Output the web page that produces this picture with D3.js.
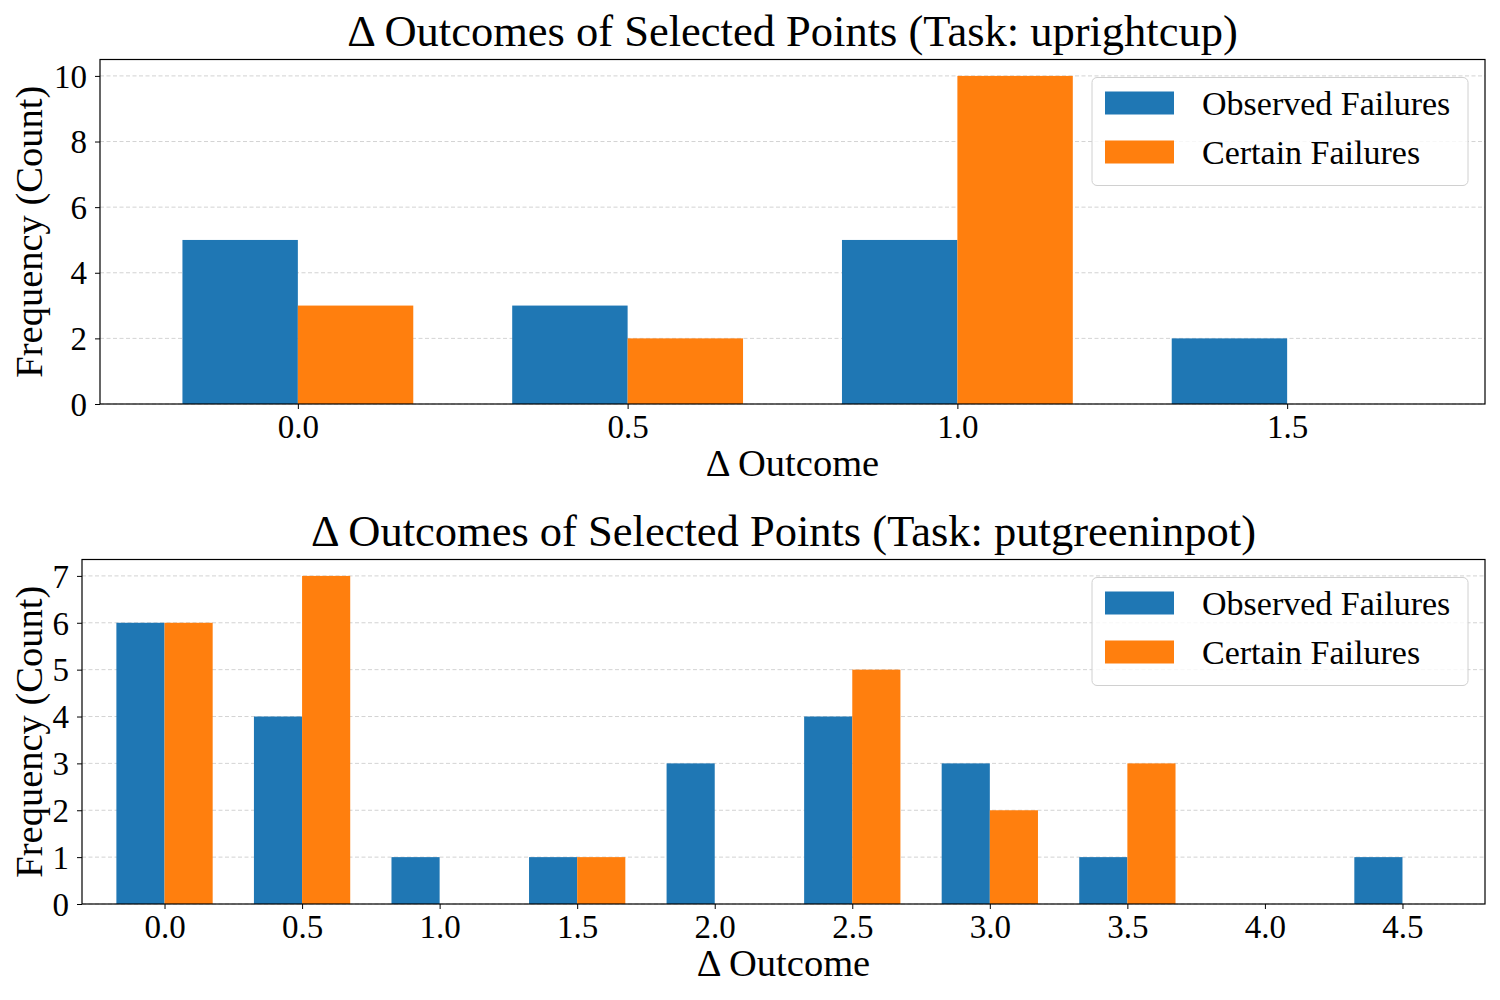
<!DOCTYPE html>
<html>
<head>
<meta charset="utf-8">
<script src="https://cdn.jsdelivr.net/npm/d3@7"></script>
<style>
  body { margin: 0; background: #fff; }
  text { font-family: "Liberation Serif", "DejaVu Serif", serif; fill: #000; }
</style>
</head>
<body>
<div id="grafico"></div>
<script>
// data
const topTask    = "uprightcup";
const topBins    = ["0.0", "0.5", "1.0", "1.5"];
const topObs     = [5, 3, 5, 2];
const topCertain = [3, 2, 10, 0];
const topYTicks  = [0, 2, 4, 6, 8, 10];

const botTask    = "putgreeninpot";
const botBins    = ["0.0", "0.5", "1.0", "1.5", "2.0", "2.5", "3.0", "3.5", "4.0", "4.5"];
const botObs     = [6, 4, 1, 1, 3, 4, 3, 1, 0, 1];
const botCertain = [6, 7, 0, 1, 0, 5, 2, 3, 0, 0];
const botYTicks  = [0, 1, 2, 3, 4, 5, 6, 7];

const seriesNames = ["Observed Failures", "Certain Failures"];
const colors      = ["#1f77b4", "#ff7f0e"];

const W = 1500, H = 1000;
const barW = 0.35;

const svg = d3.select("#grafico")
              .append("svg")
              .attr("width", W)
              .attr("height", H);

function panel(opts) {
    const { left, right, top, bottom, task, bins, obs, certain, yTicks } = opts;
    const ymax = d3.max(obs.concat(certain)) * 1.05;

    const x = d3.scaleLinear()
                .domain([-0.6, bins.length - 0.4])
                .range([left, right]);
    const y = d3.scaleLinear()
                .domain([0, ymax])
                .range([bottom, top]);

    const g = svg.append("g");

    // grid
    g.append("g")
     .selectAll("line")
     .data(yTicks)
     .enter()
     .append("line")
     .attr("x1", left)
     .attr("x2", right)
     .attr("y1", d => y(d))
     .attr("y2", d => y(d))
     .attr("stroke", "#b0b0b0")
     .attr("stroke-opacity", 0.7)
     .attr("stroke-width", 0.8)
     .attr("stroke-dasharray", "4,2.5");

    // bars
    const rows = bins.map((b, i) => ({ i, obs: obs[i], certain: certain[i] }));
    g.append("g")
     .selectAll("rect")
     .data(rows)
     .enter()
     .append("rect")
     .attr("x", d => x(d.i - barW))
     .attr("width", x(barW) - x(0))
     .attr("y", d => y(d.obs))
     .attr("height", d => y(0) - y(d.obs))
     .attr("fill", colors[0]);
    g.append("g")
     .selectAll("rect")
     .data(rows)
     .enter()
     .append("rect")
     .attr("x", d => x(d.i))
     .attr("width", x(barW) - x(0))
     .attr("y", d => y(d.certain))
     .attr("height", d => y(0) - y(d.certain))
     .attr("fill", colors[1]);

    // axes
    const xAxis = g.append("g")
                   .attr("transform", `translate(0, ${bottom})`)
                   .call(d3.axisBottom(x)
                           .tickValues(d3.range(bins.length))
                           .tickFormat(i => bins[i])
                           .tickSize(5)
                           .tickPadding(6));
    const yAxis = g.append("g")
                   .attr("transform", `translate(${left}, 0)`)
                   .call(d3.axisLeft(y)
                           .tickValues(yTicks)
                           .tickFormat(d3.format("d"))
                           .tickSize(5)
                           .tickPadding(8));
    [xAxis, yAxis].forEach(a => {
        a.select(".domain").remove();
        a.selectAll("text")
         .attr("font-size", "33px")
         .attr("font-family", "Liberation Serif, serif")
         .attr("fill", "#000");
        a.selectAll("line").attr("stroke", "#000").attr("stroke-width", 1);
    });
    xAxis.selectAll("text").attr("dy", "0.7em");
    yAxis.selectAll("text").attr("dy", "0.34em");

    // frame
    g.append("rect")
     .attr("x", left)
     .attr("y", top)
     .attr("width", right - left)
     .attr("height", bottom - top)
     .attr("fill", "none")
     .attr("stroke", "#000")
     .attr("stroke-width", 1.2);

    // titles
    const cx = (left + right) / 2;
    g.append("text")
     .attr("x", cx)
     .attr("y", top - 14)
     .attr("font-size", "44.5px")
     .style("text-anchor", "middle")
     .text(`Δ Outcomes of Selected Points (Task: ${task})`);

    g.append("text")
     .attr("x", cx)
     .attr("y", bottom + 72)
     .attr("font-size", "38.5px")
     .style("text-anchor", "middle")
     .text("Δ Outcome");

    g.append("text")
     .attr("transform", `translate(42, ${(top + bottom) / 2}) rotate(-90)`)
     .attr("font-size", "38.5px")
     .style("text-anchor", "middle")
     .text("Frequency (Count)");

    // legend
    const lg = g.append("g")
                .attr("transform", `translate(${right - 393}, ${top + 18})`);
    lg.append("rect")
      .attr("width", 376)
      .attr("height", 108)
      .attr("rx", 5)
      .attr("fill", "#fff")
      .attr("fill-opacity", 0.8)
      .attr("stroke", "#d0d0d0")
      .attr("stroke-width", 1);
    seriesNames.forEach((name, i) => {
        lg.append("rect")
          .attr("x", 13)
          .attr("y", 14 + i * 49)
          .attr("width", 69)
          .attr("height", 23)
          .attr("fill", colors[i]);
        lg.append("text")
          .attr("x", 110)
          .attr("y", 37 + i * 49)
          .attr("font-size", "34px")
          .text(name);
    });
}

panel({ left: 100, right: 1485, top: 59.5, bottom: 404,
        task: topTask, bins: topBins, obs: topObs, certain: topCertain, yTicks: topYTicks });
panel({ left: 82, right: 1485, top: 559.5, bottom: 904,
        task: botTask, bins: botBins, obs: botObs, certain: botCertain, yTicks: botYTicks });
</script>
</body>
</html>
